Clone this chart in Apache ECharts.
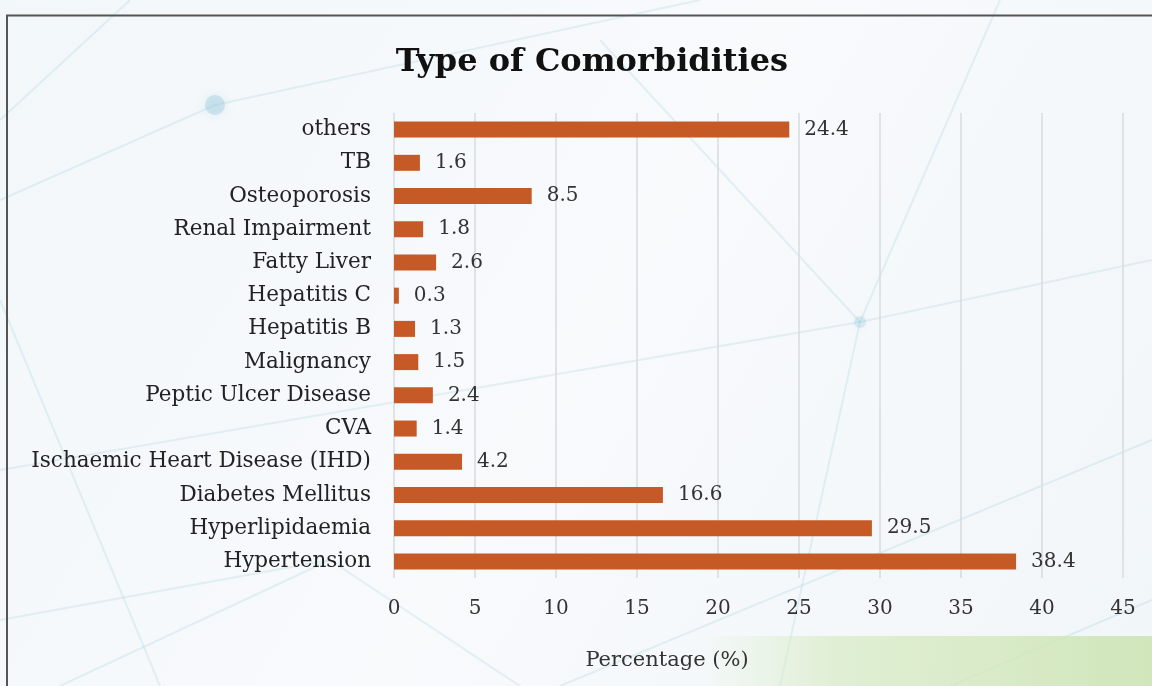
<!DOCTYPE html>
<html>
<head>
<meta charset="utf-8">
<style>
  html, body { margin: 0; padding: 0; background: #f6f9fb; }
  #chart { width: 1152px; height: 686px; }
</style>
<script src="https://cdn.jsdelivr.net/npm/echarts@6/dist/echarts.min.js"></script>
</head>
<body>
<div id="chart"></div>
<script>
// Comorbidity categories, listed bottom to top
const categories = [
  'Hypertension',
  'Hyperlipidaemia',
  'Diabetes Mellitus',
  'Ischaemic Heart Disease (IHD)',
  'CVA',
  'Peptic Ulcer Disease',
  'Malignancy',
  'Hepatitis B',
  'Hepatitis C',
  'Fatty Liver',
  'Renal Impairment',
  'Osteoporosis',
  'TB',
  'others'
];
// Share of patients with each comorbidity (%)
const percentages = [38.4, 29.5, 16.6, 4.2, 1.4, 2.4, 1.5, 1.3, 0.3, 2.6, 1.8, 8.5, 1.6, 24.4];
const xTicks = [0, 5, 10, 15, 20, 25, 30, 35, 40, 45];

const SERIF = '"DejaVu Serif", "Liberation Serif", serif';
const BAR = '#c55a27';

// faint decorative network lines in the backdrop
const netLines = [
  [[0, 470], [860, 322]], [[860, 322], [1152, 260]], [[860, 322], [600, 40]],
  [[860, 322], [1000, 0]], [[860, 322], [780, 686]], [[0, 620], [330, 560]],
  [[330, 560], [520, 686]], [[0, 300], [160, 686]], [[60, 686], [330, 560]],
  [[560, 686], [1152, 440]], [[700, 0], [215, 105]], [[215, 105], [0, 200]],
  [[1152, 600], [950, 686]], [[130, 0], [0, 120]]
];
const graphics = netLines.map(p => ({
  type: 'line', silent: true, z: -10,
  shape: { x1: p[0][0], y1: p[0][1], x2: p[1][0], y2: p[1][1] },
  style: { stroke: 'rgba(140,195,215,0.2)', lineWidth: 2 }
}));
graphics.push(
  { type: 'circle', silent: true, z: -9, shape: { cx: 215, cy: 105, r: 10 },
    style: { fill: 'rgba(140,195,215,0.35)', shadowBlur: 12, shadowColor: 'rgba(140,195,215,0.6)' } },
  { type: 'circle', silent: true, z: -9, shape: { cx: 860, cy: 322, r: 6 },
    style: { fill: 'rgba(140,195,215,0.25)', shadowBlur: 10, shadowColor: 'rgba(140,195,215,0.5)' } },
  { type: 'rect', silent: true, z: -8, shape: { x: 700, y: 636, width: 452, height: 50 },
    style: { fill: new echarts.graphic.LinearGradient(0, 0, 1, 0, [
      { offset: 0, color: 'rgba(215,235,195,0)' },
      { offset: 0.3, color: 'rgba(215,235,195,0.7)' },
      { offset: 1, color: 'rgba(205,228,180,0.9)' }
    ]) } },
  // frame border (top and left edges)
  { type: 'polyline', silent: true, z: 5,
    shape: { points: [[7, 686], [7, 15.5], [1152, 15.5]] },
    style: { stroke: '#555', lineWidth: 2, fill: null } },
  // axis title
  { type: 'text', x: 667, y: 661, silent: true,
    style: { text: 'Percentage (%)', font: '21px ' + SERIF, fill: '#333',
             align: 'center', verticalAlign: 'middle' } }
);

const chart = echarts.init(document.getElementById('chart'), null, { renderer: 'canvas' });
chart.setOption({
  animation: false,
  backgroundColor: new echarts.graphic.LinearGradient(0, 0, 1, 1, [
    { offset: 0, color: '#f2f7fa' },
    { offset: 0.5, color: '#f8fafc' },
    { offset: 1, color: '#f1f6f8' }
  ]),
  title: {
    text: 'Type of Comorbidities',
    left: 587, textAlign: 'center', top: 42,
    textStyle: { fontFamily: SERIF, fontWeight: 'bold', fontSize: 32, color: '#111' }
  },
  graphic: graphics,
  grid: { left: 394, right: 29, top: 113, bottom: 108, containLabel: false },
  xAxis: {
    type: 'value', min: 0, max: 45, interval: 5,
    axisLine: { show: false }, axisTick: { show: false },
    splitLine: { show: true, lineStyle: { color: '#d8dbde', width: 1.5 } },
    axisLabel: {
      margin: 21, fontFamily: SERIF, fontSize: 20, color: '#333',
      formatter: v => xTicks.includes(v) ? String(v) : ''
    }
  },
  yAxis: {
    type: 'category', data: categories,
    axisLine: { show: false }, axisTick: { show: false },
    axisLabel: { margin: 23, fontFamily: SERIF, fontSize: 21.5, color: '#222' }
  },
  series: [{
    type: 'bar', data: percentages, barWidth: 16,
    itemStyle: { color: BAR },
    label: {
      show: true, position: 'right', distance: 15,
      fontFamily: SERIF, fontSize: 20, color: '#333',
      formatter: p => p.value.toFixed(1)
    }
  }]
});
</script>
</body>
</html>
